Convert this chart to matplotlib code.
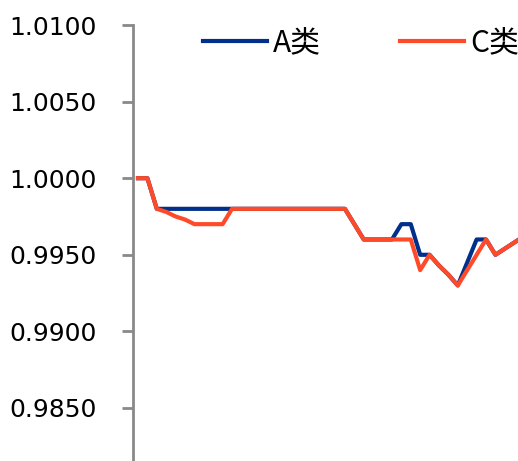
import matplotlib
matplotlib.use('Agg')
import matplotlib.pyplot as plt
import numpy as np

plt.rcParams['font.family'] = ['DejaVu Sans', 'Noto Sans CJK SC']

# daily net value, class A and class C
nav_a = [1.0000, 1.0000,
         0.9980, 0.9980, 0.9980, 0.9980, 0.9980, 0.9980, 0.9980, 0.9980, 0.9980,
         0.9980, 0.9980, 0.9980, 0.9980, 0.9980, 0.9980, 0.9980, 0.9980, 0.9980,
         0.9980, 0.9980, 0.9980, 0.9970, 0.9960, 0.9960, 0.9960, 0.9960, 0.9970,
         0.9970, 0.9950, 0.9950, 0.9943, 0.9937, 0.9930, 0.9945, 0.9960, 0.9960,
         0.9950, 0.9954, 0.9958, 0.9962]
nav_c = [1.0000, 1.0000,
         0.9980, 0.9978, 0.9975, 0.9973, 0.9970, 0.9970, 0.9970, 0.9970, 0.9980,
         0.9980, 0.9980, 0.9980, 0.9980, 0.9980, 0.9980, 0.9980, 0.9980, 0.9980,
         0.9980, 0.9980, 0.9980, 0.9970, 0.9960, 0.9960, 0.9960, 0.9960, 0.9960,
         0.9960, 0.9940, 0.9950, 0.9943, 0.9937, 0.9930, 0.9940, 0.9950, 0.9960,
         0.9950, 0.9954, 0.9958, 0.9962]
labels = ['A类', 'C类']
yticks = [0.9850, 0.9900, 0.9950, 1.0000, 1.0050, 1.0100]

W, H = 518, 461
fig = plt.figure(figsize=(W / 100, H / 100), dpi=100)
ax = fig.add_axes([133 / W, 0, 1 - 133 / W, (H - 25) / H])

x = np.arange(len(nav_a))
ax.plot(x, nav_a, color='#00308C', lw=3, label=labels[0])
ax.plot(x, nav_c, color='#FF4A2A', lw=3, label=labels[1])

ax.set_xlim(-0.53, 40.4)
ax.set_ylim(0.98154, 1.0100)
ax.set_yticks(yticks)
ax.set_yticklabels([f'{v:.4f}' for v in yticks])
ax.tick_params(axis='y', direction='out', length=8, width=2, color='#898989',
               labelsize=18, pad=18)
ax.set_xticks([])
for s in ['top', 'right', 'bottom']:
    ax.spines[s].set_visible(False)
ax.spines['left'].set_color('#898989')
ax.spines['left'].set_linewidth(2)

fig.legend(loc='center left', bbox_to_anchor=(203 / W, 1 - 43 / H), ncol=2,
           frameon=False, prop={'family': ['Noto Sans CJK SC'], 'size': 21.5},
           handlelength=2.14, handletextpad=0.2, columnspacing=2.65,
           borderpad=0, borderaxespad=0)

fig.savefig('out.png', dpi=100)
